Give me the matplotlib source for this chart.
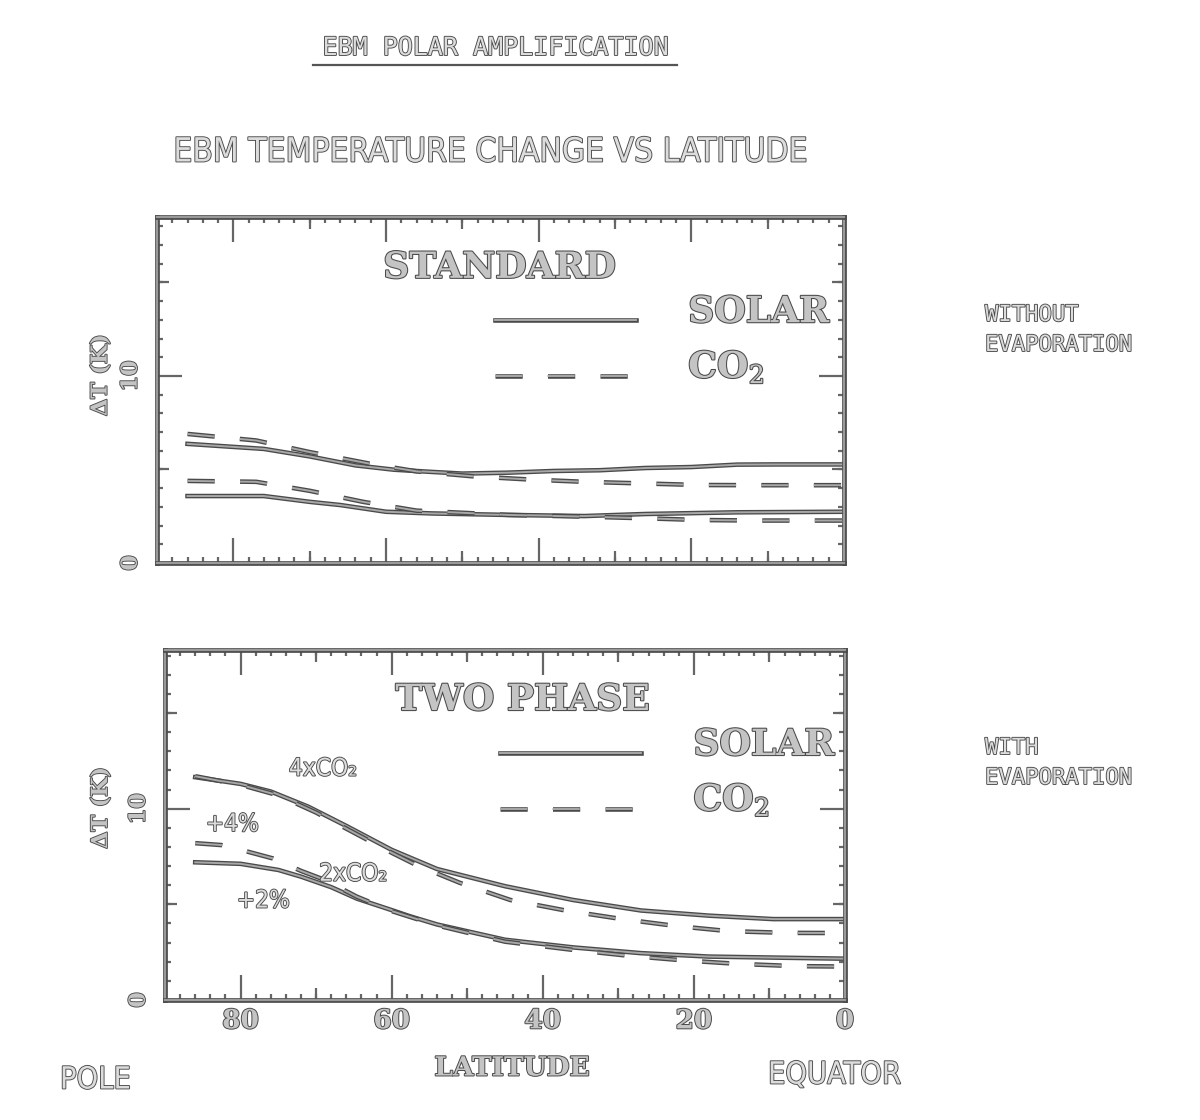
import matplotlib
matplotlib.use("Agg")
import numpy as np
import matplotlib.pyplot as plt
import matplotlib.patheffects as pe
from matplotlib.lines import Line2D
from matplotlib.legend_handler import HandlerLine2D

# --- values (latitude in deg, delta T in K) ---
# STANDARD (without evaporation)
std_solar_hi_lat = [86, 76, 70, 64, 59, 54, 50, 44, 38, 32, 26, 20, 14, 9, 0]
std_solar_hi = [6.37, 6.1, 5.7, 5.22, 4.99, 4.87, 4.78, 4.83, 4.92, 4.96, 5.08, 5.13, 5.26, 5.27, 5.27]
std_co2_hi_lat = [86, 77, 70, 62, 56, 48.5, 41, 34, 26, 19, 11.5, 4, 0]
std_co2_hi = [6.9, 6.55, 5.93, 5.3, 4.9, 4.63, 4.46, 4.34, 4.25, 4.17, 4.16, 4.16, 4.16]
std_solar_lo_lat = [86, 76, 70, 66, 60, 54, 44, 34, 26, 14, 0]
std_solar_lo = [3.58, 3.58, 3.27, 3.1, 2.74, 2.65, 2.57, 2.51, 2.62, 2.71, 2.74]
std_co2_lo_lat = [86, 77, 70, 63, 56, 44, 34, 26, 19, 11.5, 4, 0]
std_co2_lo = [4.39, 4.34, 3.86, 3.27, 2.8, 2.57, 2.48, 2.39, 2.3, 2.27, 2.27, 2.27]

# TWO PHASE (with evaporation)
tp_solar_hi_lat = [86, 80, 76, 71, 66, 60, 54, 45, 36, 27, 18, 9.5, 0]
tp_solar_hi = [11.65, 11.3, 10.9, 10.1, 9.1, 7.85, 6.85, 5.95, 5.23, 4.68, 4.41, 4.23, 4.23]
tp_co2_hi_lat = [86, 80, 75, 70, 65, 60, 56.7, 51, 44.3, 37, 29.5, 22.4, 15.4, 7.7, 0]
tp_co2_hi = [11.7, 11.25, 10.7, 9.8, 8.75, 7.7, 7.05, 6.13, 5.23, 4.68, 4.23, 3.87, 3.6, 3.51, 3.5]
tp_solar_lo_lat = [86, 80, 75, 72, 68, 64.6, 60, 57.6, 54, 45, 36, 27, 18, 0]
tp_solar_lo = [7.2, 7.12, 6.8, 6.45, 5.9, 5.3, 4.7, 4.38, 3.95, 3.15, 2.75, 2.45, 2.27, 2.16]
tp_co2_lo_lat = [86, 82.5, 79, 75.7, 72, 69, 64.6, 60, 54, 45, 36, 28.3, 21.3, 14.2, 6.5, 0]
tp_co2_lo = [8.2, 8.1, 7.75, 7.4, 6.75, 6.3, 5.4, 4.65, 3.9, 3.05, 2.62, 2.3, 2.07, 1.89, 1.77, 1.75]

# curve labels in the two-phase panel: (text, lat, dT)
tp_notes = [("4xCO\u2082", 69.1, 12.1), ("+4%", 81.1, 9.2),
            ("2xCO\u2082", 65.1, 6.6), ("+2%", 77.0, 5.2)]

x_ticks = [80, 60, 40, 20, 0]
x_tick_labels = ["80", "60", "40", "20", "0"]
y_ticks = [0, 10]

plt.rcParams["mathtext.fontset"] = "dejavuserif"

DARK = "#4a4a4a"
FILL = "#c4c4c4"
PLOTTER = ["DejaVu Sans"]
MONO = ["DejaVu Sans Mono"]
SERIF = ["DejaVu Serif"]


def outline(lw, dark=DARK):
    return [pe.Stroke(linewidth=lw, foreground=dark), pe.Normal()]


def txt_fx(lw=1.3):
    return [pe.withStroke(linewidth=lw, foreground=DARK)]


class LowLine(HandlerLine2D):
    # legend key sits near the text baseline, as in the original
    def create_artists(self, legend, orig_handle, xdescent, ydescent,
                       width, height, fontsize, trans):
        arts = super().create_artists(legend, orig_handle, xdescent, ydescent,
                                      width, height, fontsize, trans)
        for a in arts:
            a.set_ydata(np.asarray(a.get_ydata()) - 0.3 * fontsize)
        return arts


dash = (0, (14, 13))
line_kw = dict(color="#a8a8a8", lw=1.4, path_effects=outline(3.3))

fig = plt.figure(figsize=(12, 11.2), dpi=100)
ax1 = fig.add_axes([157 / 1200, 1 - 563 / 1120, 687 / 1200, 346 / 1120])
ax2 = fig.add_axes([165 / 1200, 1 - 1000 / 1120, 680 / 1200, 350 / 1120])


def style_axes(ax, ytop, show_x):
    ax.set_xlim(90, 0)
    ax.set_ylim(0, ytop)
    for sp in ax.spines.values():
        sp.set_color("#9a9a9a")
        sp.set_linewidth(1.6)
        sp.set_path_effects(outline(3.4))
    ax.set_xticks(x_ticks)
    ax.set_xticks(range(2, 90, 2), minor=True)
    ax.set_yticks(y_ticks)
    ax.set_yticks(range(1, int(ytop) + 1), minor=True)
    ax.tick_params(which="both", direction="in", top=True, right=True,
                   color="#666666", width=1.6)
    ax.tick_params(which="major", length=18)
    ax.tick_params(which="minor", length=4.5)
    ax.tick_params(axis="y", labelrotation=90, pad=11)
    ax.tick_params(axis="x", pad=6)
    ax.set_yticklabels([str(v) for v in y_ticks], fontsize=16, fontweight="bold",
                       family=SERIF, color=FILL, path_effects=txt_fx(1.3),
                       va="center")
    if show_x:
        ax.set_xticklabels(x_tick_labels, fontsize=19, fontweight="bold",
                           family=SERIF, color=FILL, path_effects=txt_fx(1.4))
    else:
        ax.set_xticklabels([])
    # medium ticks at 10-deg / 5-K midpoints
    for loc in ("top", "bottom"):
        sec = ax.secondary_xaxis(loc)
        sec.set_xticks([70, 50, 30, 10])
        sec.tick_params(direction="in", length=8.5, width=1.6, color="#666666",
                        labelbottom=False, labeltop=False)
        sec.spines[loc].set_visible(False)
    for loc in ("left", "right"):
        sec = ax.secondary_yaxis(loc)
        sec.set_yticks([5, 15])
        sec.tick_params(direction="in", length=8.5, width=1.6, color="#666666",
                        labelleft=False, labelright=False)
        sec.spines[loc].set_visible(False)
    ax.set_ylabel("\u0394T (K)", fontsize=16, fontweight="bold", family=SERIF,
                  color=FILL, path_effects=txt_fx(1.3))


style_axes(ax1, 18.5, False)
style_axes(ax2, 18.3, True)
ax1.yaxis.set_label_coords(-0.066, 0.543)
ax2.yaxis.set_label_coords(-0.078, 0.549)

# curves
ax1.plot(std_solar_hi_lat, std_solar_hi, ls="-", **line_kw)
ax1.plot(std_solar_lo_lat, std_solar_lo, ls="-", **line_kw)
ax1.plot(std_co2_hi_lat, std_co2_hi, ls=dash, **line_kw)
ax1.plot(std_co2_lo_lat, std_co2_lo, ls=dash, **line_kw)

ax2.plot(tp_solar_hi_lat, tp_solar_hi, ls="-", **line_kw)
ax2.plot(tp_solar_lo_lat, tp_solar_lo, ls="-", **line_kw)
ax2.plot(tp_co2_hi_lat, tp_co2_hi, ls=dash, **line_kw)
ax2.plot(tp_co2_lo_lat, tp_co2_lo, ls=dash, **line_kw)

for label, lat, val in tp_notes:
    ax2.text(lat, val, label, ha="center", va="center", fontsize=17.5,
             family=PLOTTER, fontstretch="condensed", color="#dcdcdc",
             path_effects=txt_fx(1.3))

# panel titles and legends
serif_big = dict(fontsize=26, fontweight="bold", family=SERIF,
                 color=FILL, path_effects=txt_fx(1.5))
ax1.text(0.499, 0.853, "STANDARD", transform=ax1.transAxes,
         ha="center", va="center", **serif_big)
ax2.text(0.526, 0.857, "TWO PHASE", transform=ax2.transAxes,
         ha="center", va="center", **serif_big)

handles = [Line2D([], [], ls="-", **line_kw), Line2D([], [], ls=dash, **line_kw)]
for ax, anchor in ((ax1, (0.492, 0.774)), (ax2, (0.493, 0.777))):
    leg = ax.legend(handles, ["SOLAR", "CO$_2$"], loc="upper left",
                    bbox_to_anchor=anchor, frameon=False, borderpad=0,
                    borderaxespad=0, handlelength=3.9, handletextpad=1.45,
                    labelspacing=0.57, handler_map={Line2D: LowLine()},
                    prop=dict(family=SERIF, size=26, weight="bold"))
    for t in leg.get_texts():
        t.set_color(FILL)
        t.set_path_effects(txt_fx(1.5))

# figure-level text
plot_kw = dict(color="#dcdcdc", path_effects=txt_fx(1.3))
fig.text(495 / 1200, 1 - 48 / 1120, "EBM POLAR AMPLIFICATION", ha="center",
         va="center", fontsize=18, family=MONO, **plot_kw)
fig.add_artist(Line2D([313 / 1200, 677 / 1200], [1 - 65 / 1120] * 2,
                      color="#555555", lw=1.6))
fig.text(491 / 1200, 1 - 152 / 1120, "EBM TEMPERATURE CHANGE VS LATITUDE",
         ha="center", va="center", fontsize=24, family=PLOTTER,
         fontstretch="condensed", **plot_kw)
fig.text(985 / 1200, 1 - 315 / 1120, "WITHOUT", ha="left", va="center",
         fontsize=16, family=MONO, **plot_kw)
fig.text(985 / 1200, 1 - 345 / 1120, "EVAPORATION", ha="left", va="center",
         fontsize=16, family=MONO, **plot_kw)
fig.text(985 / 1200, 1 - 748 / 1120, "WITH", ha="left", va="center",
         fontsize=16, family=MONO, **plot_kw)
fig.text(985 / 1200, 1 - 778 / 1120, "EVAPORATION", ha="left", va="center",
         fontsize=16, family=MONO, **plot_kw)
fig.text(60 / 1200, 1 - 1080 / 1120, "POLE", ha="left", va="center",
         fontsize=22, family=PLOTTER, fontstretch="condensed", **plot_kw)
fig.text(768 / 1200, 1 - 1075 / 1120, "EQUATOR", ha="left", va="center",
         fontsize=22, family=PLOTTER, fontstretch="condensed", **plot_kw)
fig.text(512 / 1200, 1 - 1068 / 1120, "LATITUDE", ha="center", va="center",
         fontsize=19, fontweight="bold", family=SERIF, color=FILL,
         path_effects=txt_fx(1.4))

fig.savefig("out.png", dpi=100, facecolor="white")
